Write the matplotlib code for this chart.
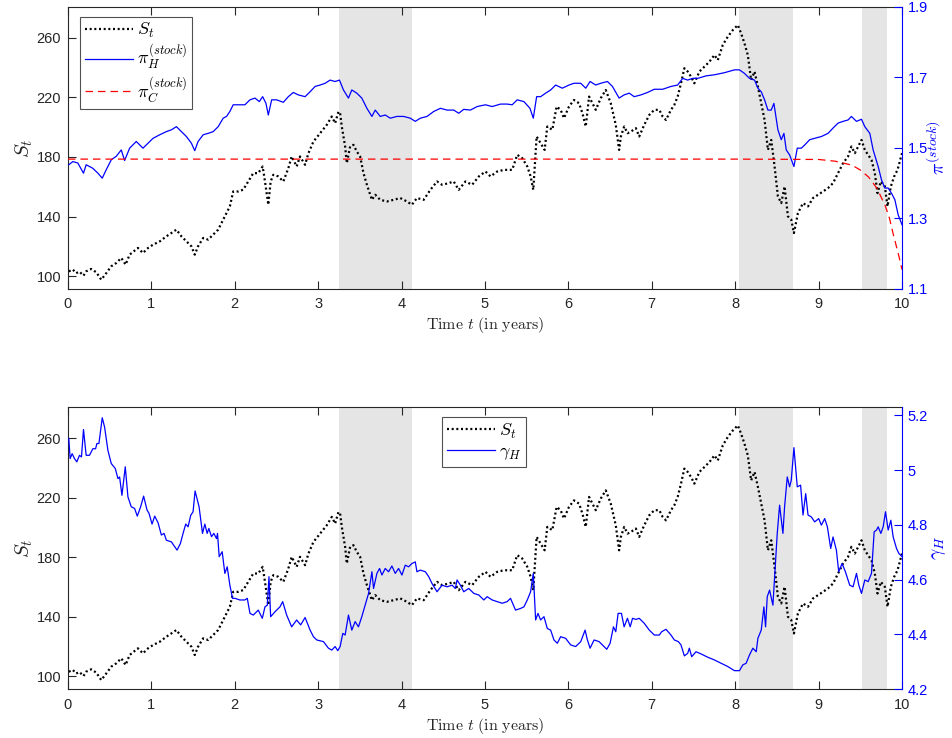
import matplotlib
matplotlib.use("Agg")
import matplotlib.pyplot as plt
from matplotlib.lines import Line2D

plt.rcParams['font.family'] = ['Liberation Sans', 'DejaVu Sans']
plt.rcParams['mathtext.fontset'] = 'cm'

# ---- stock price path S_t ----
t_S = [0.010, 0.058, 0.098, 0.138, 0.186, 0.218, 0.278, 0.339, 0.399, 0.459,
       0.519, 0.579, 0.639, 0.691, 0.739, 0.839, 0.899, 0.960, 1.020, 1.100,
       1.180, 1.240, 1.300, 1.360, 1.420, 1.480, 1.520, 1.560, 1.621, 1.681,
       1.741, 1.801, 1.861, 1.901, 1.941, 1.981, 2.041, 2.101, 2.161, 2.222,
       2.282, 2.334, 2.362, 2.402, 2.430, 2.462, 2.522, 2.582, 2.642, 2.682,
       2.742, 2.782, 2.843, 2.883, 2.943, 3.023, 3.103, 3.163, 3.203, 3.243,
       3.263, 3.283, 3.303, 3.323, 3.343, 3.383, 3.423, 3.463, 3.503, 3.543,
       3.584, 3.644, 3.684, 3.744, 3.824, 3.904, 3.984, 4.064, 4.124, 4.184,
       4.265, 4.345, 4.425, 4.485, 4.565, 4.625, 4.685, 4.765, 4.846, 4.926,
       5.006, 5.066, 5.146, 5.226, 5.326, 5.386, 5.446, 5.507, 5.547, 5.579,
       5.619, 5.667, 5.715, 5.747, 5.807, 5.859, 5.907, 5.947, 6.007, 6.067,
       6.128, 6.168, 6.208, 6.248, 6.288, 6.328, 6.388, 6.448, 6.508, 6.568,
       6.608, 6.629, 6.669, 6.709, 6.749, 6.809, 6.849, 6.909, 6.970, 7.030,
       7.090, 7.130, 7.170, 7.230, 7.270, 7.310, 7.350, 7.390, 7.430, 7.470,
       7.510, 7.571, 7.631, 7.691, 7.751, 7.791, 7.851, 7.911, 7.971, 8.031,
       8.071, 8.111, 8.151, 8.191, 8.232, 8.272, 8.312, 8.352, 8.392, 8.432,
       8.472, 8.512, 8.552, 8.592, 8.632, 8.672, 8.704, 8.752, 8.813, 8.873,
       8.933, 8.993, 9.053, 9.113, 9.173, 9.233, 9.293, 9.353, 9.393, 9.434,
       9.474, 9.514, 9.554, 9.594, 9.634, 9.674, 9.706, 9.746, 9.794, 9.826,
       9.866, 9.906, 9.946, 10.000]
S = [103.2, 104.4, 102.0, 103.0, 100.3, 103.2, 104.8, 102.6, 97.6, 102.0,
     106.6, 108.8, 112.2, 107.7, 114.4, 118.9, 115.5, 118.9, 121.1, 123.3,
     126.7, 128.9, 131.2, 126.7, 123.3, 120.0, 114.4, 120.0, 125.6, 124.5,
     127.8, 131.2, 137.9, 142.3, 146.8, 156.8, 156.8, 158.0, 163.5, 169.1,
     169.1, 173.6, 163.5, 147.9, 163.5, 168.0, 166.9, 163.5, 172.4, 180.3,
     173.6, 180.3, 174.7, 182.5, 190.3, 195.9, 201.5, 207.1, 202.6, 210.4,
     209.3, 200.4, 193.7, 187.0, 175.8, 187.0, 188.1, 183.6, 180.3, 169.1,
     161.3, 151.2, 154.6, 151.2, 150.1, 151.2, 152.4, 150.1, 147.9, 152.4,
     151.2, 157.9, 163.5, 161.3, 162.4, 163.5, 157.9, 163.5, 161.3, 166.9,
     170.2, 166.9, 170.2, 171.3, 171.3, 181.4, 179.2, 173.6, 166.9, 157.9,
     193.7, 189.2, 184.7, 200.4, 198.2, 213.8, 211.6, 206.0, 213.8, 218.2,
     216.0, 209.3, 200.4, 220.5, 216.0, 211.6, 219.4, 224.9, 216.0, 201.5,
     184.7, 193.7, 200.4, 195.9, 197.0, 199.3, 193.7, 201.5, 208.2, 211.6,
     211.6, 207.1, 204.8, 211.6, 214.9, 220.5, 229.4, 239.5, 237.3, 233.9,
     229.4, 237.3, 240.6, 243.9, 248.4, 245.0, 255.1, 260.7, 265.1, 268.5,
     262.9, 256.2, 248.4, 231.6, 237.3, 227.2, 216.0, 204.8, 184.7, 191.4,
     173.6, 153.5, 149.0, 160.2, 140.1, 137.9, 128.9, 142.3, 149.0, 146.8,
     152.4, 154.6, 156.8, 159.1, 162.4, 169.1, 175.8, 180.3, 187.0, 182.5,
     187.0, 191.4, 184.7, 181.4, 178.0, 169.1, 155.7, 163.5, 160.2, 146.8,
     160.2, 166.9, 171.3, 182.5]

# ---- hedged stock allocation pi_H ----
t_piH = [0.010, 0.058, 0.118, 0.186, 0.218, 0.298, 0.359, 0.411, 0.459, 0.519,
         0.579, 0.639, 0.679, 0.739, 0.819, 0.899, 0.960, 1.020, 1.100, 1.180,
         1.240, 1.300, 1.360, 1.420, 1.480, 1.520, 1.560, 1.621, 1.681, 1.741,
         1.801, 1.861, 1.901, 1.941, 1.981, 2.041, 2.121, 2.182, 2.242, 2.294,
         2.334, 2.374, 2.402, 2.442, 2.502, 2.582, 2.642, 2.702, 2.762, 2.843,
         2.903, 2.963, 3.023, 3.083, 3.143, 3.203, 3.255, 3.303, 3.363, 3.403,
         3.463, 3.523, 3.584, 3.644, 3.684, 3.744, 3.804, 3.864, 3.944, 4.024,
         4.104, 4.164, 4.225, 4.305, 4.385, 4.465, 4.545, 4.625, 4.685, 4.745,
         4.825, 4.906, 5.006, 5.086, 5.186, 5.266, 5.326, 5.386, 5.467, 5.539,
         5.579, 5.619, 5.667, 5.727, 5.787, 5.847, 5.927, 6.007, 6.067, 6.148,
         6.208, 6.260, 6.328, 6.388, 6.468, 6.528, 6.608, 6.668, 6.729, 6.789,
         6.869, 6.949, 7.030, 7.130, 7.230, 7.310, 7.370, 7.430, 7.490, 7.551,
         7.651, 7.751, 7.871, 7.991, 8.051, 8.111, 8.171, 8.232, 8.272, 8.312,
         8.352, 8.392, 8.432, 8.464, 8.512, 8.552, 8.584, 8.612, 8.652, 8.704,
         8.744, 8.793, 8.833, 8.893, 8.953, 9.033, 9.113, 9.173, 9.233, 9.293,
         9.353, 9.393, 9.454, 9.514, 9.554, 9.614, 9.654, 9.714, 9.754, 9.794,
         9.834, 9.874, 9.914, 9.954, 10.000]
piH = [1.452, 1.461, 1.457, 1.428, 1.452, 1.442, 1.428, 1.414, 1.438, 1.466,
       1.476, 1.494, 1.464, 1.499, 1.518, 1.499, 1.513, 1.527, 1.537, 1.546,
       1.551, 1.560, 1.546, 1.532, 1.513, 1.492, 1.518, 1.537, 1.541, 1.546,
       1.560, 1.584, 1.589, 1.603, 1.622, 1.622, 1.622, 1.636, 1.641, 1.631,
       1.645, 1.626, 1.593, 1.636, 1.636, 1.629, 1.645, 1.657, 1.650, 1.645,
       1.659, 1.674, 1.678, 1.683, 1.692, 1.688, 1.692, 1.664, 1.641, 1.664,
       1.655, 1.641, 1.612, 1.589, 1.607, 1.589, 1.593, 1.584, 1.589, 1.589,
       1.584, 1.575, 1.584, 1.589, 1.603, 1.612, 1.607, 1.607, 1.598, 1.609,
       1.607, 1.617, 1.622, 1.617, 1.624, 1.624, 1.622, 1.636, 1.631, 1.612,
       1.584, 1.645, 1.645, 1.655, 1.664, 1.678, 1.669, 1.678, 1.683, 1.683,
       1.669, 1.688, 1.678, 1.683, 1.688, 1.674, 1.641, 1.650, 1.655, 1.645,
       1.650, 1.657, 1.666, 1.666, 1.674, 1.678, 1.697, 1.692, 1.697, 1.697,
       1.704, 1.707, 1.713, 1.721, 1.721, 1.711, 1.697, 1.692, 1.669, 1.659,
       1.636, 1.607, 1.607, 1.626, 1.551, 1.523, 1.541, 1.494, 1.480, 1.447,
       1.499, 1.499, 1.508, 1.523, 1.527, 1.532, 1.541, 1.556, 1.570, 1.575,
       1.579, 1.589, 1.575, 1.581, 1.560, 1.541, 1.494, 1.447, 1.409, 1.386,
       1.386, 1.371, 1.353, 1.310, 1.282]

# ---- constant-strategy stock allocation pi_C ----
t_piC = [0.0, 1.0, 2.0, 3.0, 4.0, 5.0, 6.0, 7.0, 8.0, 9.0, 9.2, 9.4, 9.5,
         9.6, 9.7, 9.8, 9.85, 9.9, 9.95, 10.0]
piC = [1.468, 1.468, 1.468, 1.468, 1.468, 1.468, 1.468, 1.468, 1.468, 1.467,
       1.462, 1.451, 1.437, 1.417, 1.385, 1.335, 1.300, 1.250, 1.205, 1.155]

# ---- risk aversion gamma_H ----
t_gam = [0.010, 0.026, 0.050, 0.078, 0.106, 0.138, 0.162, 0.186, 0.218, 0.258,
         0.298, 0.331, 0.347, 0.371, 0.411, 0.439, 0.479, 0.519, 0.567, 0.599,
         0.619, 0.647, 0.687, 0.719, 0.759, 0.799, 0.831, 0.871, 0.907, 0.948,
         0.972, 1.008, 1.040, 1.080, 1.120, 1.152, 1.180, 1.240, 1.280, 1.308,
         1.348, 1.380, 1.412, 1.440, 1.472, 1.500, 1.524, 1.572, 1.613, 1.641,
         1.669, 1.689, 1.721, 1.749, 1.781, 1.793, 1.813, 1.849, 1.881, 1.909,
         1.941, 1.973, 2.001, 2.061, 2.121, 2.150, 2.182, 2.222, 2.282, 2.330,
         2.362, 2.390, 2.410, 2.430, 2.482, 2.542, 2.574, 2.622, 2.682, 2.742,
         2.790, 2.843, 2.903, 2.943, 2.983, 3.023, 3.063, 3.123, 3.163, 3.203,
         3.235, 3.263, 3.295, 3.323, 3.363, 3.403, 3.443, 3.483, 3.523, 3.563,
         3.604, 3.644, 3.664, 3.704, 3.736, 3.764, 3.804, 3.844, 3.884, 3.924,
         3.964, 4.004, 4.044, 4.084, 4.124, 4.164, 4.184, 4.225, 4.285, 4.325,
         4.365, 4.425, 4.485, 4.545, 4.605, 4.645, 4.665, 4.705, 4.745, 4.805,
         4.866, 4.926, 4.986, 5.026, 5.086, 5.146, 5.206, 5.266, 5.306, 5.366,
         5.426, 5.467, 5.507, 5.547, 5.579, 5.607, 5.635, 5.667, 5.707, 5.747,
         5.787, 5.827, 5.867, 5.907, 5.967, 6.027, 6.087, 6.148, 6.200, 6.228,
         6.260, 6.308, 6.368, 6.408, 6.460, 6.500, 6.540, 6.568, 6.596, 6.636,
         6.668, 6.708, 6.741, 6.769, 6.809, 6.849, 6.909, 6.970, 7.030, 7.090,
         7.118, 7.170, 7.230, 7.270, 7.318, 7.350, 7.390, 7.430, 7.450, 7.478,
         7.530, 7.591, 7.671, 7.751, 7.831, 7.911, 7.991, 8.051, 8.091, 8.131,
         8.171, 8.212, 8.252, 8.272, 8.312, 8.344, 8.364, 8.384, 8.412, 8.452,
         8.480, 8.504, 8.532, 8.572, 8.592, 8.624, 8.652, 8.672, 8.704, 8.744,
         8.784, 8.813, 8.845, 8.873, 8.913, 8.953, 9.001, 9.033, 9.073, 9.105,
         9.145, 9.173, 9.213, 9.241, 9.281, 9.321, 9.373, 9.413, 9.454, 9.482,
         9.514, 9.554, 9.594, 9.634, 9.666, 9.694, 9.714, 9.746, 9.774, 9.802,
         9.834, 9.866, 9.894, 9.934, 9.962, 10.000]
gam = [5.115, 5.042, 5.060, 5.042, 5.030, 5.054, 5.048, 5.148, 5.054, 5.054,
       5.078, 5.078, 5.097, 5.097, 5.191, 5.157, 5.072, 5.024, 5.006, 4.969,
       4.975, 4.908, 5.012, 4.902, 4.866, 4.860, 4.832, 4.866, 4.905, 4.854,
       4.842, 4.803, 4.832, 4.808, 4.763, 4.769, 4.744, 4.738, 4.720, 4.708,
       4.732, 4.769, 4.803, 4.793, 4.835, 4.848, 4.924, 4.866, 4.769, 4.803,
       4.769, 4.787, 4.757, 4.769, 4.750, 4.769, 4.684, 4.702, 4.623, 4.647,
       4.580, 4.532, 4.532, 4.526, 4.526, 4.532, 4.477, 4.471, 4.489, 4.459,
       4.501, 4.507, 4.611, 4.465, 4.483, 4.501, 4.520, 4.471, 4.428, 4.453,
       4.435, 4.462, 4.416, 4.392, 4.380, 4.377, 4.374, 4.350, 4.343, 4.356,
       4.341, 4.356, 4.404, 4.398, 4.471, 4.416, 4.447, 4.428, 4.465, 4.507,
       4.550, 4.629, 4.568, 4.623, 4.641, 4.617, 4.641, 4.629, 4.650, 4.623,
       4.641, 4.617, 4.653, 4.647, 4.659, 4.665, 4.629, 4.635, 4.629, 4.611,
       4.586, 4.556, 4.580, 4.574, 4.580, 4.568, 4.599, 4.580, 4.556, 4.568,
       4.550, 4.544, 4.526, 4.538, 4.526, 4.520, 4.514, 4.520, 4.532, 4.489,
       4.495, 4.501, 4.526, 4.556, 4.623, 4.453, 4.477, 4.453, 4.465, 4.422,
       4.416, 4.380, 4.368, 4.392, 4.386, 4.362, 4.356, 4.374, 4.416, 4.380,
       4.350, 4.380, 4.374, 4.362, 4.346, 4.368, 4.428, 4.410, 4.477, 4.477,
       4.428, 4.459, 4.428, 4.459, 4.455, 4.459, 4.441, 4.416, 4.398, 4.398,
       4.410, 4.419, 4.398, 4.380, 4.374, 4.362, 4.322, 4.331, 4.350, 4.319,
       4.337, 4.329, 4.317, 4.307, 4.295, 4.283, 4.268, 4.268, 4.289, 4.295,
       4.325, 4.350, 4.337, 4.386, 4.416, 4.501, 4.428, 4.538, 4.562, 4.507,
       4.647, 4.769, 4.872, 4.769, 4.866, 4.975, 4.939, 4.963, 5.082, 4.939,
       4.945, 4.836, 4.914, 4.836, 4.829, 4.811, 4.823, 4.799, 4.823, 4.793,
       4.714, 4.756, 4.708, 4.629, 4.659, 4.629, 4.580, 4.574, 4.623, 4.580,
       4.550, 4.599, 4.593, 4.623, 4.775, 4.781, 4.793, 4.769, 4.793, 4.848,
       4.781, 4.817, 4.756, 4.714, 4.696, 4.684]

# ---- shaded market-stress periods (start, end) in years ----
stress_periods = [(3.255, 4.128), (8.051, 8.696), (9.522, 9.814)]

AX_DARK = '#262626'
BLUE = '#0000ff'
RED = '#ff0000'
SHADE = '#e5e5e5'
DOT = (0, (0.9, 1.2))
DASH = (0, (6, 4))

fig = plt.figure(figsize=(9.52, 7.38), dpi=100)
ax_top = fig.add_axes([0.0714, 0.6085, 0.8761, 0.3824])
ax_bot = fig.add_axes([0.0714, 0.066, 0.8761, 0.3824])


def style_left(ax):
    ax.set_xlim(0, 10)
    ax.set_ylim(91.4, 280.8)
    ax.set_xticks(range(0, 11))
    ax.set_yticks([100, 140, 180, 220, 260])
    ax.tick_params(axis='both', direction='in', length=6, width=0.8,
                   colors=AX_DARK, labelsize=10.5, pad=5)
    ax.tick_params(axis='x', top=True, pad=6)
    ax.tick_params(axis='y', right=False)
    for side in ['left', 'top', 'bottom']:
        ax.spines[side].set_color(AX_DARK)
        ax.spines[side].set_linewidth(0.8)
    ax.spines['right'].set_visible(False)
    for a, b in stress_periods:
        ax.axvspan(a, b, color=SHADE, lw=0, zorder=0)
    ax.set_xlabel(r'$\mathrm{Time}\ t\ \mathrm{(in\ years)}$', fontsize=11.5,
                  color=AX_DARK, labelpad=3)
    ax.set_ylabel(r'$S_t$', fontsize=15, color=AX_DARK, labelpad=1)


def style_right(ax, lo, hi, ticks, labels, label):
    ax.set_ylim(lo, hi)
    ax.set_yticks(ticks)
    ax.set_yticklabels(labels)
    ax.tick_params(axis='y', direction='in', length=6, width=0.8,
                   colors=BLUE, labelsize=10.5, pad=4)
    for side in ['left', 'top', 'bottom']:
        ax.spines[side].set_visible(False)
    ax.spines['right'].set_color(BLUE)
    ax.spines['right'].set_linewidth(0.8)
    ax.set_ylabel(label, fontsize=14, color=BLUE, rotation=90)
    ax.yaxis.label.set_verticalalignment('center')
    ax.yaxis.label.set_horizontalalignment('center')
    ax.yaxis.set_label_coords(1.044, 0.5)


# ---- top panel: S_t with stock allocations ----
style_left(ax_top)
ax_top.plot(t_S, S, color='black', lw=1.6, ls=DOT, zorder=3)
ax_top_r = ax_top.twinx()
style_right(ax_top_r, 1.1, 1.9, [1.1, 1.3, 1.5, 1.7, 1.9],
            ['1.1', '1.3', '1.5', '1.7', '1.9'], r'$\pi^{(stock)}$')
ax_top_r.plot(t_piH, piH, color=BLUE, lw=0.9, zorder=2)
ax_top_r.plot(t_piC, piC, color=RED, lw=0.9, ls=DASH, zorder=2)

h_top = [Line2D([], [], color='black', lw=1.6, ls=DOT),
         Line2D([], [], color=BLUE, lw=0.9),
         Line2D([], [], color=RED, lw=0.9, ls=DASH)]
leg = ax_top_r.legend(h_top, [r'$S_t$', r'$\pi_H^{(stock)}$', r'$\pi_C^{(stock)}$'],
                      loc='upper left', bbox_to_anchor=(0.0145, 0.965),
                      fontsize=13, frameon=True, fancybox=False,
                      edgecolor=AX_DARK, handlelength=2.7, handletextpad=0.2,
                      labelspacing=0.15, borderpad=0.25, borderaxespad=0)
leg.get_frame().set_linewidth(0.8)

# ---- bottom panel: S_t with risk aversion ----
style_left(ax_bot)
ax_bot.plot(t_S, S, color='black', lw=1.6, ls=DOT, zorder=3)
ax_bot_r = ax_bot.twinx()
style_right(ax_bot_r, 4.2, 5.23, [4.2, 4.4, 4.6, 4.8, 5.0, 5.2],
            ['4.2', '4.4', '4.6', '4.8', '5', '5.2'], r'$\gamma_H$')
ax_bot_r.plot(t_gam, gam, color=BLUE, lw=0.9, zorder=2)

h_bot = [Line2D([], [], color='black', lw=1.6, ls=DOT),
         Line2D([], [], color=BLUE, lw=0.9)]
leg2 = ax_bot_r.legend(h_bot, [r'$S_t$', r'$\gamma_H$'],
                       loc='upper center', bbox_to_anchor=(0.499, 0.965),
                       fontsize=13, frameon=True, fancybox=False,
                       edgecolor=AX_DARK, handlelength=2.7, handletextpad=0.2,
                       labelspacing=0.15, borderpad=0.25, borderaxespad=0)
leg2.get_frame().set_linewidth(0.8)

fig.savefig('out.png', dpi=100)
